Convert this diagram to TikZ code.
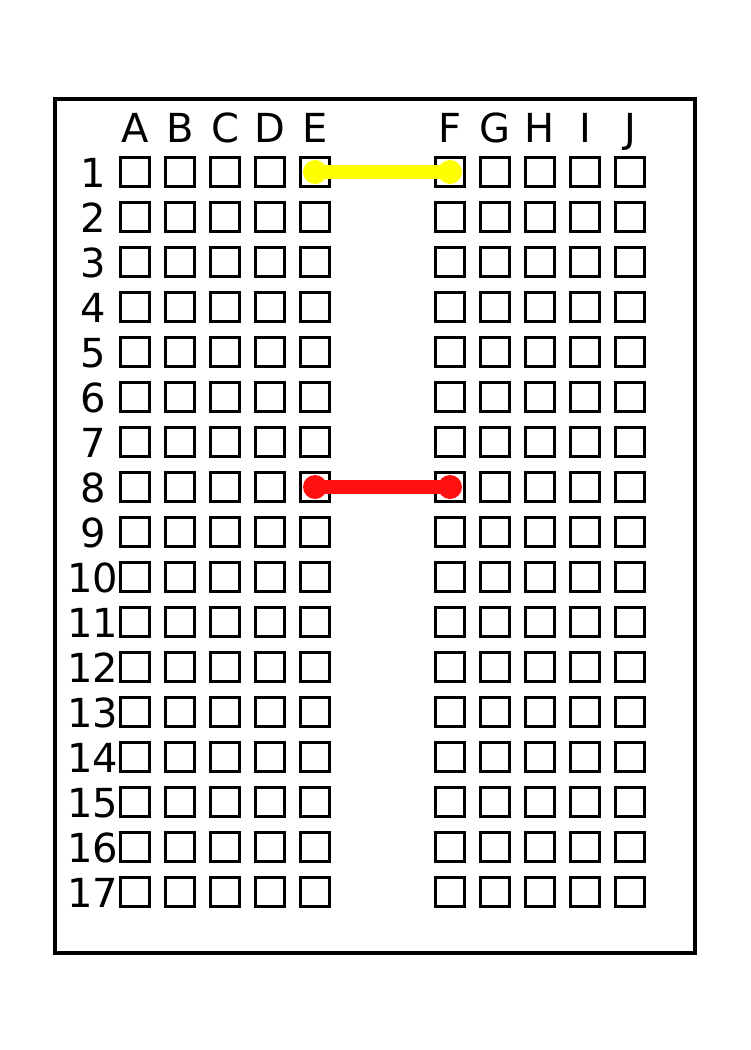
\documentclass[tikz,border=0pt]{standalone}
\usepackage{fontspec}
\setmainfont{DejaVu Sans}
\definecolor{wirered}{RGB}{255,17,17}
\definecolor{wireyellow}{RGB}{255,255,0}
\begin{document}
\begin{tikzpicture}[x=1pt,y=-1pt,
  hole/.style={draw,line width=3pt,minimum size=29pt,inner sep=0pt},
  lbl/.style={font=\fontsize{40}{48}\selectfont,anchor=base,inner sep=0pt},
  wire/.style={line width=14pt,draw=#1}]
  \useasboundingbox (0,0) rectangle (750,1050);
  % Board outline
  \draw[line width=4pt] (55,99) rectangle (695,953);
  % Column letters and holes
  \foreach \c/\x in {A/135,B/180,C/225,D/270,E/315,F/450,G/495,H/540,I/585,J/630} {
    \node[lbl] (col\c) at (\x,142) {\c};
    \foreach \r in {1,...,17}
      \node[hole] (\c\r) at (\x,127+45*\r) {};
  }
  % Row numbers
  \foreach \r in {1,...,17}
    \node[lbl] (row\r) at (93,142+45*\r) {\r};
  % Jumper wires
  \draw[wire=wireyellow] (E1.center) -- (F1.center);
  \fill[wireyellow] (E1.center) circle (12pt) (F1.center) circle (12pt);
  \draw[wire=wirered] (E8.center) -- (F8.center);
  \fill[wirered] (E8.center) circle (12pt) (F8.center) circle (12pt);
\end{tikzpicture}
\end{document}
